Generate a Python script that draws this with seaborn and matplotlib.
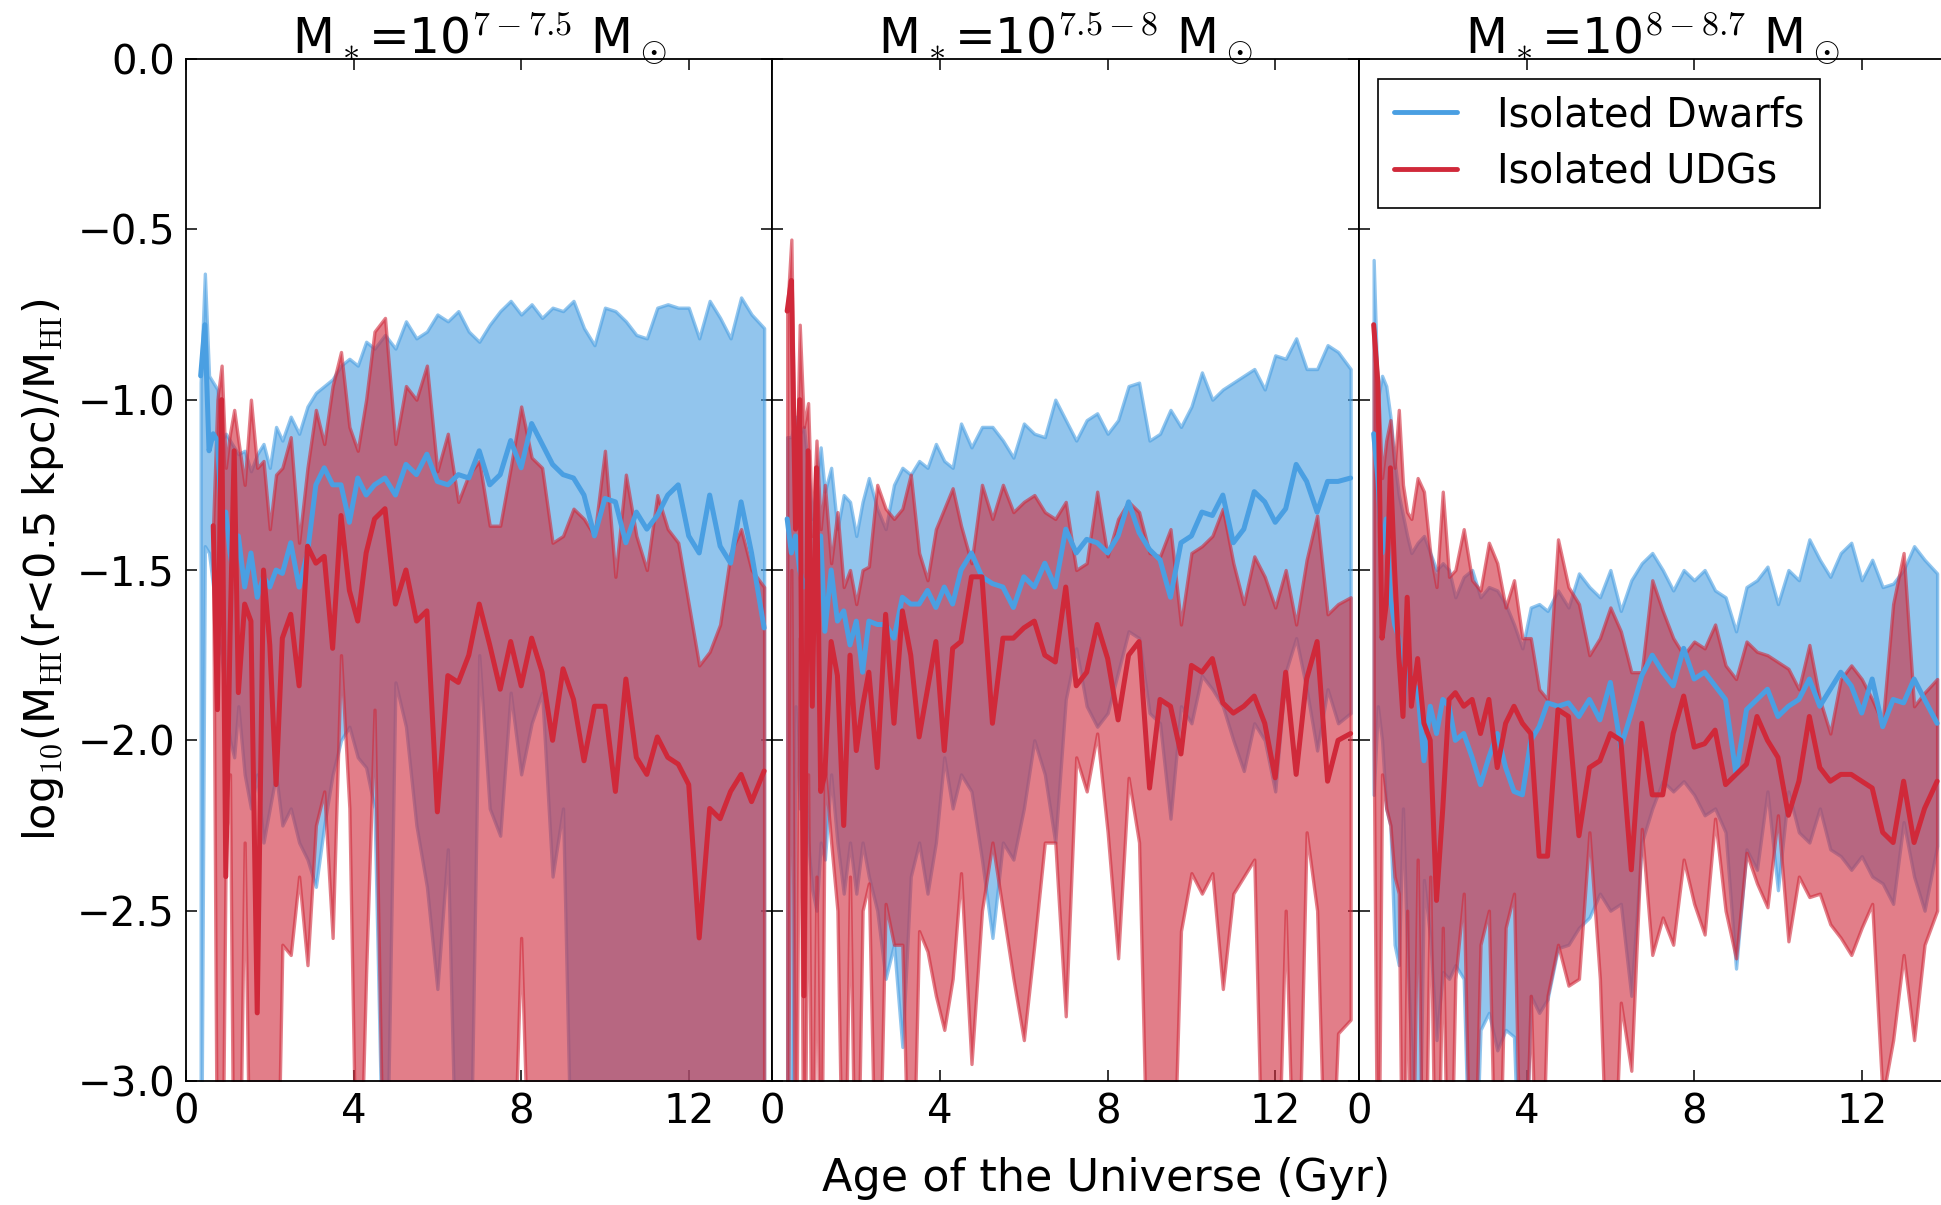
import numpy as np
import pandas as pd
import matplotlib
matplotlib.use("Agg")
import matplotlib.pyplot as plt
from matplotlib.lines import Line2D
import seaborn as sns

nan = np.nan

# ---------------- data ----------------
t_gyr = [0.35, 0.45, 0.55, 0.65, 0.75, 0.85, 0.95, 1.05, 1.15, 1.25,
         1.4, 1.55, 1.7, 1.85, 2.0, 2.15, 2.3,
         2.5, 2.7, 2.9, 3.1, 3.3, 3.5, 3.7, 3.9, 4.1, 4.3, 4.5,
         4.75, 5.0, 5.25, 5.5, 5.75, 6.0, 6.25, 6.5, 6.75, 7.0,
         7.25, 7.5, 7.75, 8.0, 8.25, 8.5, 8.75, 9.0, 9.25, 9.5,
         9.75, 10.0, 10.25, 10.5, 10.75, 11.0, 11.25, 11.5, 11.75, 12.0,
         12.25, 12.5, 12.75, 13.0, 13.25, 13.5,
         13.8]

panel_titles = [r"M$_*$=10$^{7-7.5}$ M$_\odot$",
                r"M$_*$=10$^{7.5-8}$ M$_\odot$",
                r"M$_*$=10$^{8-8.7}$ M$_\odot$"]
series_names = ["Isolated Dwarfs", "Isolated UDGs"]
x_ticks = [0, 4, 8, 12]

# ---- panel 1 : M* = 10^7-7.5 ----
p1_dw_hi = [-0.95, -0.63, -0.93, -0.95, -0.97, -1.12, -1.10, -1.12, -1.14, -1.16,
            -1.15, -1.21, -1.16, -1.13, -1.20, -1.08, -1.12,
            -1.05, -1.10, -1.02, -0.98, -0.96, -0.94, -0.90, -0.88, -0.90, -0.83, -0.85,
            -0.81, -0.85, -0.77, -0.82, -0.80, -0.75, -0.77, -0.74, -0.80, -0.83,
            -0.78, -0.74, -0.71, -0.75, -0.72, -0.76, -0.73, -0.74, -0.71, -0.79,
            -0.84, -0.73, -0.74, -0.77, -0.81, -0.82, -0.73, -0.72, -0.73, -0.73,
            -0.82, -0.71, -0.76, -0.82, -0.70, -0.75,
            -0.79]
p1_dw_med = [-0.93, -0.78, -1.15, -1.10, -1.12, -1.35, -1.33, -1.45, -1.52, -1.40,
             -1.55, -1.45, -1.58, -1.52, -1.55, -1.50, -1.51,
             -1.42, -1.55, -1.45, -1.25, -1.20, -1.25, -1.25, -1.36, -1.23, -1.28, -1.25,
             -1.23, -1.28, -1.19, -1.22, -1.16, -1.24, -1.25, -1.22, -1.23, -1.15,
             -1.25, -1.22, -1.12, -1.20, -1.07, -1.13, -1.19, -1.22, -1.23, -1.28,
             -1.40, -1.29, -1.30, -1.42, -1.33, -1.38, -1.34, -1.28, -1.25, -1.40,
             -1.45, -1.28, -1.43, -1.48, -1.30, -1.45,
             -1.67]
p1_dw_lo = [-3.6, -1.43, -1.45, -1.55, -1.70, -1.75, -1.90, -2.00, -2.05, -1.90,
            -2.10, -2.20, -2.10, -2.30, -2.20, -2.10, -2.25,
            -2.20, -2.30, -2.35, -2.43, -2.25, -2.10, -2.00, -1.96, -2.05, -2.08, -2.20,
            -3.6, -1.83, -1.96, -2.25, -2.43, -2.73, -2.32, -3.6, -3.6, -1.75,
            -2.20, -2.28, -1.86, -2.10, -1.95, -1.86, -2.40, -2.20, -3.6, -3.6,
            -3.6, -3.6, -3.6, -3.6, -3.6, -3.6, -3.6, -3.6, -3.6, -3.6,
            -3.6, -3.6, -3.6, -3.6, -3.6, -3.6,
            -3.6]
p1_udg_hi = [nan, nan, nan, -1.36, -1.00, -0.90, -1.20, -1.10, -1.03, -1.12,
             -1.25, -1.00, -1.20, -1.18, -1.38, -1.22, -1.20,
             -1.11, -1.42, -1.20, -1.03, -1.13, -0.96, -0.86, -1.08, -1.15, -1.00, -0.80,
             -0.76, -1.13, -0.96, -1.00, -0.90, -1.21, -1.10, -1.30, -1.22, -1.18,
             -1.37, -1.37, -1.20, -1.02, -1.17, -1.20, -1.42, -1.40, -1.32, -1.35,
             -1.40, -1.15, -1.52, -1.22, -1.40, -1.50, -1.28, -1.38, -1.42, -1.60,
             -1.78, -1.74, -1.66, -1.45, -1.38, -1.50,
             -1.55]
p1_udg_med = [nan, nan, nan, -1.37, -1.91, -1.00, -2.40, -1.70, -1.15, -1.86,
              -1.60, -1.65, -2.80, -1.50, -1.72, -2.13, -1.70,
              -1.63, -1.84, -1.43, -1.48, -1.46, -1.73, -1.34, -1.56, -1.65, -1.45, -1.35,
              -1.32, -1.60, -1.50, -1.65, -1.62, -2.21, -1.81, -1.83, -1.75, -1.60,
              -1.72, -1.85, -1.71, -1.84, -1.70, -1.80, -2.00, -1.79, -1.88, -2.06,
              -1.90, -1.90, -2.15, -1.82, -2.05, -2.10, -1.99, -2.05, -2.07, -2.13,
              -2.58, -2.20, -2.23, -2.15, -2.10, -2.18,
              -2.09]
p1_udg_lo = [nan, nan, nan, -1.50, -3.6, -3.6, -2.30, -2.10, -3.6, -3.6,
             -2.30, -3.6, -3.6, -3.6, -3.6, -3.6, -2.60,
             -2.63, -2.40, -2.66, -2.25, -2.15, -2.58, -1.75, -2.20, -3.6, -2.68, -1.91,
             -3.6, -3.6, -3.6, -3.6, -3.6, -3.6, -3.6, -3.6, -3.6, -3.6,
             -3.6, -3.6, -3.6, -2.58, -3.6, -3.6, -3.6, -3.6, -3.6, -3.6,
             -3.6, -3.6, -3.6, -3.6, -3.6, -3.6, -3.6, -3.6, -3.6, -3.6,
             -3.6, -3.6, -3.6, -3.6, -3.6, -3.6,
             -3.6]

# ---- panel 2 : M* = 10^7.5-8 ----
p2_dw_hi = [-1.11, -1.11, -1.05, -1.10, -1.08, -1.20, -1.35, -1.25, -1.14, -1.27,
            -1.20, -1.38, -1.28, -1.30, -1.40, -1.30, -1.23,
            -1.32, -1.38, -1.25, -1.20, -1.22, -1.18, -1.20, -1.13, -1.18, -1.20, -1.07,
            -1.14, -1.08, -1.08, -1.12, -1.17, -1.07, -1.10, -1.11, -1.00, -1.06,
            -1.12, -1.06, -1.04, -1.10, -1.06, -0.96, -0.95, -1.12, -1.10, -1.03,
            -1.08, -1.02, -0.92, -1.00, -0.97, -0.95, -0.93, -0.91, -0.97, -0.87,
            -0.88, -0.82, -0.91, -0.91, -0.84, -0.86,
            -0.91]
p2_dw_med = [-1.35, -1.45, -1.40, -1.50, -1.55, -1.52, -1.50, -1.45, -1.40, -1.68,
             -1.50, -1.65, -1.62, -1.72, -1.65, -1.80, -1.65,
             -1.66, -1.66, -1.70, -1.58, -1.60, -1.60, -1.56, -1.61, -1.55, -1.60, -1.50,
             -1.45, -1.52, -1.54, -1.55, -1.61, -1.52, -1.55, -1.48, -1.55, -1.38,
             -1.45, -1.41, -1.42, -1.45, -1.40, -1.30, -1.39, -1.44, -1.47, -1.58,
             -1.42, -1.40, -1.33, -1.34, -1.28, -1.42, -1.38, -1.27, -1.30, -1.36,
             -1.32, -1.19, -1.24, -1.33, -1.24, -1.24,
             -1.23]
p2_dw_lo = [-3.6, -3.6, -1.90, -2.20, -2.00, -2.30, -2.44, -2.50, -2.30, -2.35,
            -2.10, -2.30, -2.45, -2.30, -2.45, -2.30, -2.40,
            -2.50, -2.70, -2.60, -2.90, -2.40, -2.30, -2.45, -2.30, -2.05, -2.20, -2.10,
            -2.15, -2.35, -2.58, -2.30, -2.35, -2.20, -2.00, -2.10, -2.30, -1.88,
            -1.73, -1.90, -1.96, -1.92, -1.80, -1.68, -1.70, -1.92, -1.95, -2.23,
            -1.90, -1.95, -1.81, -1.85, -1.90, -2.00, -2.09, -1.95, -2.00, -2.15,
            -1.80, -1.70, -1.85, -2.03, -1.85, -1.95,
            -1.92]
p2_udg_hi = [-0.74, -0.53, -1.35, -0.78, -1.08, -1.01, -1.40, -1.12, -1.38, -1.25,
             -1.48, -1.33, -1.55, -1.50, -1.60, -1.50, -1.49,
             -1.25, -1.32, -1.35, -1.32, -1.22, -1.45, -1.53, -1.38, -1.32, -1.26, -1.37,
             -1.48, -1.25, -1.35, -1.25, -1.33, -1.30, -1.28, -1.33, -1.35, -1.30,
             -1.50, -1.48, -1.27, -1.46, -1.35, -1.30, -1.33, -1.45, -1.46, -1.38,
             -1.66, -1.45, -1.43, -1.40, -1.32, -1.48, -1.60, -1.46, -1.52, -1.61,
             -1.50, -1.66, -1.47, -1.34, -1.63, -1.60,
             -1.58]
p2_udg_med = [-0.74, -0.65, -1.38, -1.00, -2.75, -1.15, -1.90, -1.20, -2.15, -2.10,
              -1.71, -1.81, -2.25, -1.75, -2.03, -1.90, -1.80,
              -2.08, -1.63, -1.95, -1.62, -1.75, -1.99, -1.85, -1.71, -2.03, -1.73, -1.71,
              -1.52, -1.52, -1.95, -1.70, -1.70, -1.67, -1.65, -1.75, -1.77, -1.55,
              -1.84, -1.80, -1.66, -1.76, -1.94, -1.75, -1.71, -2.14, -1.88, -1.90,
              -2.04, -1.78, -1.80, -1.76, -1.89, -1.92, -1.90, -1.87, -1.95, -2.11,
              -1.80, -2.10, -1.82, -1.71, -2.12, -2.00,
              -1.98]
p2_udg_lo = [-3.6, -1.50, -3.6, -1.70, -3.6, -2.10, -3.6, -2.40, -3.6, -2.08,
             -2.30, -2.50, -3.6, -2.40, -3.6, -2.50, -2.42,
             -3.6, -2.48, -2.60, -2.60, -3.6, -2.56, -2.62, -2.75, -2.85, -2.70, -2.39,
             -2.95, -2.50, -2.30, -2.50, -2.70, -2.88, -2.60, -2.30, -2.30, -2.81,
             -2.05, -2.15, -1.98, -2.27, -2.64, -2.11, -2.30, -3.6, -3.6, -3.6,
             -2.56, -2.39, -2.45, -2.39, -2.73, -2.45, -2.40, -2.35, -3.6, -3.6,
             -2.50, -3.6, -2.27, -2.50, -3.6, -2.86,
             -2.82]

# ---- panel 3 : M* = 10^8-8.7 ----
p3_dw_hi = [-0.59, -1.00, -0.93, -0.96, -1.05, -1.18, -1.28, -1.34, -1.40, -1.45,
            -1.42, -1.40, -1.45, -1.50, -1.48, -1.50, -1.58,
            -1.52, -1.50, -1.58, -1.55, -1.56, -1.60, -1.66, -1.73, -1.61, -1.60, -1.62,
            -1.56, -1.61, -1.51, -1.55, -1.58, -1.50, -1.62, -1.53, -1.48, -1.45,
            -1.50, -1.56, -1.50, -1.53, -1.50, -1.56, -1.58, -1.68, -1.55, -1.53,
            -1.49, -1.60, -1.50, -1.53, -1.41, -1.47, -1.52, -1.45, -1.42, -1.53,
            -1.47, -1.55, -1.54, -1.50, -1.43, -1.47,
            -1.51]
p3_dw_med = [-1.10, -1.23, -1.45, -1.35, -1.58, -1.66, -1.70, -1.90, -1.75, -1.83,
             -1.85, -2.06, -1.90, -1.98, -1.88, -1.90, -2.00,
             -1.98, -2.05, -2.13, -2.05, -1.98, -2.08, -2.15, -2.16, -2.00, -1.96, -1.89,
             -1.90, -1.89, -1.93, -1.88, -1.94, -1.83, -2.02, -1.92, -1.81, -1.75,
             -1.80, -1.84, -1.73, -1.82, -1.80, -1.84, -1.88, -2.10, -1.91, -1.88,
             -1.85, -1.93, -1.90, -1.88, -1.82, -1.90, -1.85, -1.80, -1.84, -1.92,
             -1.82, -1.96, -1.88, -1.89, -1.82, -1.88,
             -1.95]
p3_dw_lo = [-2.16, -1.90, -2.00, -2.20, -2.25, -2.60, -2.66, -2.20, -2.62, -2.91,
            -3.6, -2.41, -2.58, -2.88, -2.68, -2.70, -2.66,
            -2.70, -3.6, -2.85, -2.80, -2.91, -2.85, -2.87, -3.6, -2.75, -2.80, -2.76,
            -2.61, -2.60, -2.55, -2.52, -2.45, -2.50, -2.48, -2.75, -2.30, -2.20,
            -2.12, -2.15, -2.12, -2.16, -2.22, -2.20, -2.27, -2.67, -2.32, -2.38,
            -2.15, -2.44, -2.15, -2.27, -2.30, -2.20, -2.32, -2.34, -2.38, -2.34,
            -2.40, -2.42, -2.48, -2.24, -2.40, -2.50,
            -2.31]
p3_udg_hi = [-0.78, -0.95, -1.23, -1.12, -1.06, -1.20, -1.03, -1.25, -1.33, -1.35,
             -1.23, -1.27, -1.45, -1.55, -1.27, -1.52, -1.50,
             -1.38, -1.53, -1.56, -1.42, -1.48, -1.61, -1.53, -1.70, -1.70, -1.85, -1.88,
             -1.41, -1.55, -1.60, -1.75, -1.70, -1.61, -1.68, -1.80, -1.80, -1.53,
             -1.62, -1.70, -1.75, -1.71, -1.73, -1.66, -1.78, -1.82, -1.71, -1.74,
             -1.75, -1.77, -1.79, -1.85, -1.72, -1.88, -1.98, -1.82, -1.78, -1.82,
             -1.88, -1.95, -1.60, -1.45, -1.90, -1.86,
             -1.82]
p3_udg_med = [-0.78, -0.95, -1.70, -1.60, -1.20, -1.50, -1.75, -1.93, -1.58, -1.90,
              -1.76, -1.95, -2.00, -2.47, -2.20, -1.88, -1.86,
              -1.90, -1.88, -1.98, -1.88, -2.08, -1.95, -1.90, -1.95, -1.98, -2.34, -2.34,
              -1.91, -1.93, -2.28, -2.08, -2.06, -1.98, -2.00, -2.38, -1.95, -2.16,
              -2.16, -1.98, -1.87, -2.02, -2.01, -1.97, -2.13, -2.10, -2.07, -1.93,
              -2.00, -2.05, -2.22, -2.12, -1.93, -2.08, -2.12, -2.10, -2.10, -2.12,
              -2.14, -2.27, -2.30, -2.12, -2.30, -2.20,
              -2.12]
p3_udg_lo = [-2.00, -3.6, -2.10, -2.20, -2.25, -2.40, -2.45, -3.6, -2.50, -3.6,
             -2.35, -3.6, -2.40, -3.6, -2.55, -3.6, -2.70,
             -2.45, -3.6, -2.60, -2.50, -3.6, -2.55, -2.45, -3.6, -2.75, -3.6, -2.75,
             -2.60, -2.72, -2.70, -2.27, -2.70, -3.6, -2.77, -2.97, -2.26, -2.63,
             -2.52, -2.60, -2.35, -2.48, -2.57, -2.23, -2.50, -2.64, -2.33, -2.42,
             -2.49, -2.22, -2.59, -2.40, -2.46, -2.45, -2.54, -2.58, -2.63, -2.55,
             -2.48, -3.05, -2.88, -2.63, -2.88, -2.60,
             -2.50]

# ---------------- style ----------------
BLUE = "#4A9FE2"
RED = "#D0293A"

sns.set_style("ticks")
plt.rcParams.update({
    "font.family": ["DejaVu Sans"],
    "mathtext.fontset": "cm",
    "axes.edgecolor": "black",
    "axes.labelcolor": "black",
    "text.color": "black",
    "xtick.color": "black",
    "ytick.color": "black",
    "axes.linewidth": 1.3,
})

panels = [
    (p1_dw_lo, p1_dw_med, p1_dw_hi, p1_udg_lo, p1_udg_med, p1_udg_hi),
    (p2_dw_lo, p2_dw_med, p2_dw_hi, p2_udg_lo, p2_udg_med, p2_udg_hi),
    (p3_dw_lo, p3_dw_med, p3_dw_hi, p3_udg_lo, p3_udg_med, p3_udg_hi),
]
for pan in panels:
    for arr in pan:
        if len(arr) != len(t_gyr):
            raise ValueError("length mismatch %d" % len(arr))

fig = plt.figure(figsize=(19.41, 12.05), dpi=100)
W, H = 1941.0, 1205.0
ax_left = 186 / W
ax_w = 586.5 / W
ax_bottom = 1 - 1081 / H
ax_h = (1081 - 59) / H

axes = []
for i, (dlo, dmed, dhi, ulo, umed, uhi) in enumerate(panels):
    ax = fig.add_axes([ax_left + i * ax_w, ax_bottom, ax_w, ax_h])
    axes.append(ax)
    t = np.array(t_gyr)
    ax.fill_between(t, np.array(dlo), np.array(dhi), facecolor=BLUE,
                    edgecolor=BLUE, alpha=0.6, linewidth=2.4, zorder=1)
    ax.fill_between(t, np.array(ulo), np.array(uhi), facecolor=RED,
                    edgecolor=RED, alpha=0.6, linewidth=2.4, zorder=2)
    df = pd.concat([
        pd.DataFrame({"t": t_gyr, "val": dmed, "group": series_names[0]}),
        pd.DataFrame({"t": t_gyr, "val": umed, "group": series_names[1]}),
    ], ignore_index=True).dropna()
    sns.lineplot(data=df, x="t", y="val", hue="group",
                 hue_order=series_names, palette=[BLUE, RED],
                 estimator=None, sort=False, legend=False, ax=ax,
                 linewidth=3.6, zorder=3)
    ax.set_xlim(0, 14)
    ax.set_ylim(-3, 0)
    ax.set_xticks(x_ticks)
    ax.set_yticks(np.arange(-3.0, 0.01, 0.5))
    ax.tick_params(direction="in", top=True, right=(i < 2), length=8, width=1.1,
                   labelsize=29, pad=8)
    if i > 0:
        ax.tick_params(labelleft=False)
    ax.set_xlabel("")
    ax.set_ylabel("")
    ax.set_title(panel_titles[i], fontsize=35, pad=4)
    for sp in ax.spines.values():
        sp.set_visible(True)
        sp.set_linewidth(1.3)
        sp.set_color("black")

axes[0].set_ylabel(r"log$_{10}$(M$_{\rm HI}$(r<0.5 kpc)/M$_{\rm HI}$)", fontsize=31)
axes[0].yaxis.set_label_coords(-0.205, 0.5)
fig.text(0.570, 0.022, "Age of the Universe (Gyr)", fontsize=32,
         ha="center", va="center")

handles = [Line2D([0], [0], color=BLUE, lw=3.5), Line2D([0], [0], color=RED, lw=3.5)]
leg = axes[2].legend(handles, series_names, loc="upper left",
                     bbox_to_anchor=(0.032, 0.98), borderaxespad=0,
                     fontsize=28.5, frameon=True, fancybox=False,
                     edgecolor="black", framealpha=1, handlelength=1.6,
                     handletextpad=1.0, borderpad=0.4, labelspacing=0.42)
leg.get_frame().set_linewidth(1.2)
leg.set_zorder(10)

fig.savefig("out.png", dpi=100)
